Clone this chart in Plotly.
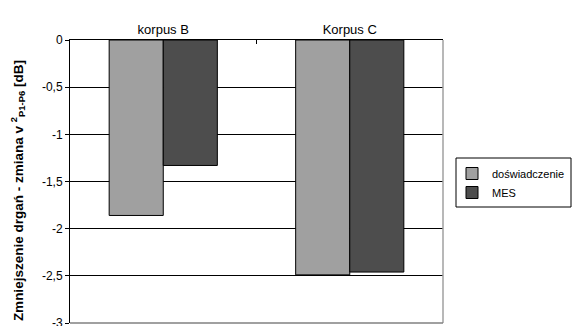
import plotly.graph_objects as go

# Vibration reduction per housing variant: measurement vs. FEM
categories = ["korpus B", "Korpus C"]
experiment = [-1.86, -2.49]
fem = [-1.33, -2.46]
series_names = ["doświadczenie", "MES"]
y_ticks = [0, -0.5, -1, -1.5, -2, -2.5, -3]
y_tick_labels = ["0", "-0,5", "-1", "-1,5", "-2", "-2,5", "-3"]

FONT = "Liberation Sans, Arial, sans-serif"

# plot area in pixels: x 70..443, y 40..323
PX_L, PX_W, PX_T, PX_H = 70, 373, 40, 283


def px_x(px):
    return (px - PX_L) / PX_W


def px_y(py):
    return (PX_T + PX_H - py) / PX_H


fig = go.Figure()
fig.add_trace(go.Bar(
    x=categories, y=experiment, name=series_names[0],
    marker=dict(color="#A0A0A0", line=dict(color="#000000", width=1)),
))
fig.add_trace(go.Bar(
    x=categories, y=fem, name=series_names[1],
    marker=dict(color="#4D4D4D", line=dict(color="#000000", width=1)),
))

fig.update_layout(
    width=572, height=326,
    margin=dict(l=70, r=129, t=40, b=3, autoexpand=False),
    paper_bgcolor="white", plot_bgcolor="white",
    font=dict(family=FONT, size=12, color="#000000"),
    barmode="group", bargap=0.42, bargroupgap=0,
    showlegend=True,
    legend=dict(
        x=px_x(452), y=px_y(159), xanchor="left", yanchor="top",
        borderwidth=0, bgcolor="rgba(0,0,0,0)",
        font=dict(size=11), tracegroupgap=0,
        itemwidth=30,
    ),
)

fig.update_xaxes(
    side="top", showgrid=False, showline=True, linecolor="#000000", linewidth=1,
    ticks="inside", tickson="boundaries", ticklen=4, tickcolor="#000000",
    tickfont=dict(size=13), fixedrange=True, automargin=False,
)
fig.update_yaxes(
    range=[-3, 0], tickvals=y_ticks, ticktext=y_tick_labels,
    showgrid=True, gridcolor="#000000", gridwidth=1, zeroline=False,
    showline=True, linecolor="#000000", linewidth=1,
    ticks="outside", ticklen=4, tickcolor="#000000",
    tickfont=dict(size=12), fixedrange=True, ticklabeloverflow="allow",
    automargin=False,
)

# gray frame along the right and bottom of the plot area
fig.add_shape(type="line", xref="paper", yref="paper", x0=1, x1=1, y0=0, y1=1,
              line=dict(color="#A0A0A0", width=1.5), layer="above")
fig.add_shape(type="line", xref="paper", yref="paper", x0=0, x1=1, y0=0, y1=0,
              line=dict(color="#808080", width=1.5), layer="above")

# legend frame
fig.add_shape(type="rect", xref="paper", yref="paper",
              x0=px_x(456), x1=px_x(571), y0=px_y(207), y1=px_y(158),
              line=dict(color="#000000", width=1), layer="above")

fig.add_annotation(
    text="<b>Zmniejszenie drgań - zmiana v <sup>2</sup><sub>P1-P6</sub> [dB]</b>",
    xref="paper", yref="paper", x=px_x(18), y=0.466,
    xanchor="center", yanchor="middle", textangle=-90, showarrow=False,
    font=dict(size=13.5, family=FONT),
)

fig.write_html("out.html")
